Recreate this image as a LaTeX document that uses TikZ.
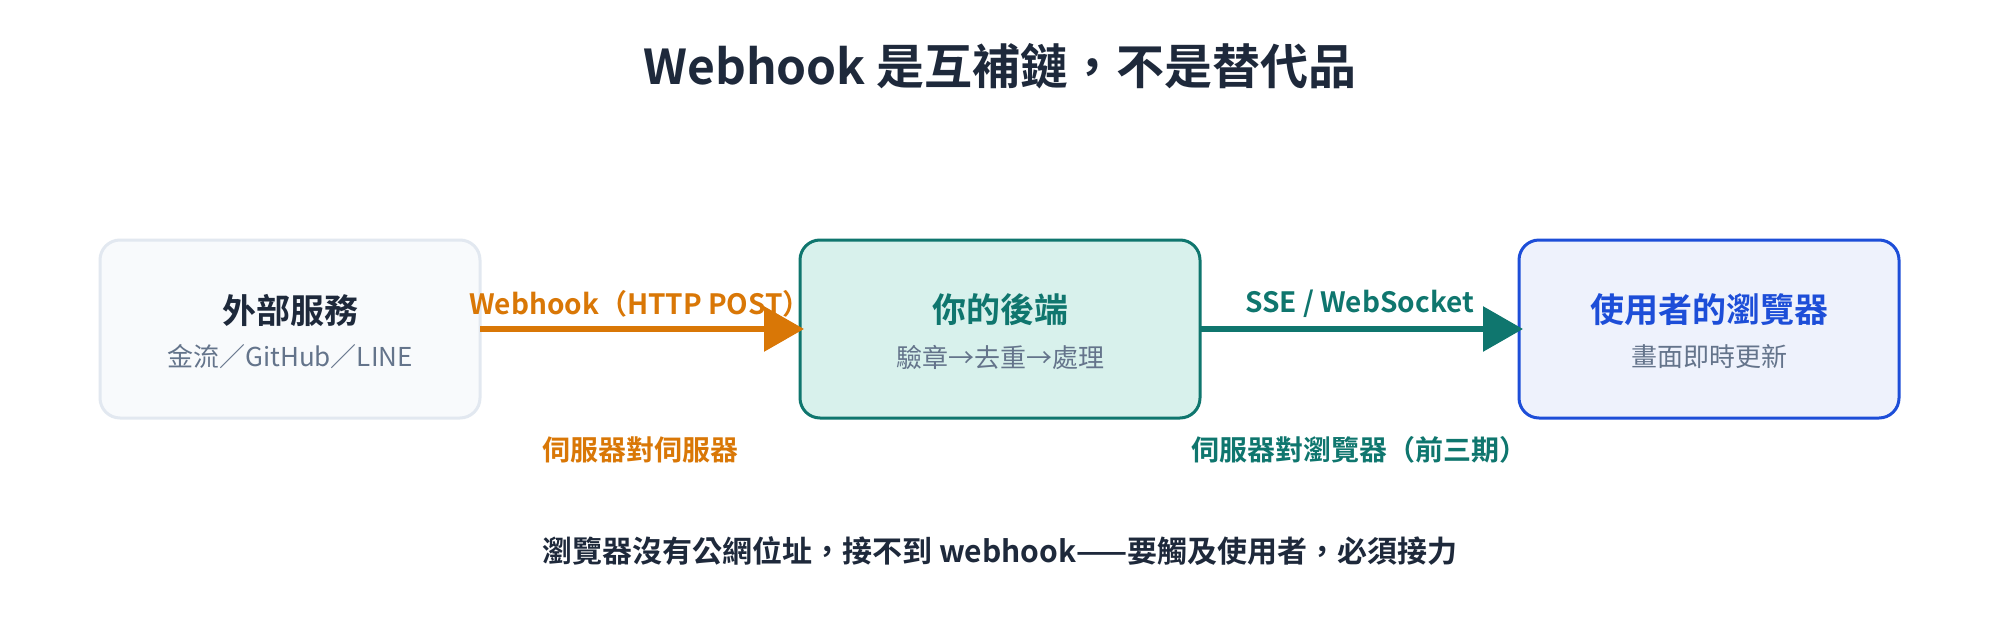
\documentclass[tikz,border=0pt]{standalone}
\usepackage{fontspec}
\setmainfont{Noto Sans CJK TC}[BoldFont={Noto Sans CJK TC Bold}]
\usetikzlibrary{positioning,arrows.meta,calc}
\definecolor{ink}{HTML}{1E293B}
\definecolor{muted}{HTML}{64748B}
\definecolor{extfill}{HTML}{F8FAFC}
\definecolor{extline}{HTML}{E2E8F0}
\definecolor{tealline}{HTML}{0F766E}
\definecolor{tealfill}{HTML}{D8F1EC}
\definecolor{orangeline}{HTML}{D97706}
\definecolor{blueline}{HTML}{1D4ED8}
\definecolor{bluefill}{HTML}{EEF2FC}
\tikzset{
  box/.style={rectangle, rounded corners=20pt, line width=3pt, minimum width=380pt, minimum height=178pt, outer sep=0pt},
  boxtitle/.style={font=\bfseries\fontsize{34}{40}\selectfont},
  boxsub/.style={font=\fontsize{26}{32}\selectfont, text=muted},
  flow/.style={line width=6pt, -{Triangle[length=40pt,width=44pt]}, shorten >=-4pt},
  flowlabel/.style={font=\bfseries\fontsize{28}{34}\selectfont},
}
\begin{document}
\begin{tikzpicture}[x=1pt, y=-1pt]

        \useasboundingbox[fill=white] (0,0) rectangle (2000,640);

        \node (title) at (1000,66) [font=\bfseries\fontsize{48}{58}\selectfont, text=ink] {Webhook 是互補鏈，不是替代品};

        \node (backend) at (1000,329) [box, minimum width=400pt, draw=tealline, fill=tealfill] {};
        \node (ext) [box, left=320pt of backend, draw=extline, fill=extfill] {};
        \node (browser) [box, right=319pt of backend, draw=blueline, fill=bluefill] {};

        \node (ext_t) at ([yshift=19pt]ext.center) [boxtitle, text=ink] {外部服務};
        \node (ext_s) at ([yshift=-28pt]ext.center) [boxsub] {金流／GitHub／LINE};
        \node (backend_t) at ([yshift=19pt]backend.center) [boxtitle, text=tealline] {你的後端};
        \node (backend_s) at ([yshift=-28pt]backend.center) [boxsub] {驗章→去重→處理};
        \node (browser_t) at ([yshift=19pt]browser.center) [boxtitle, text=blueline] {使用者的瀏覽器};
        \node (browser_s) at ([yshift=-28pt]browser.center) [boxsub] {畫面即時更新};

        \draw[flow, orangeline] (ext) to (backend);
        \draw[flow, tealline] (backend) to (browser);

        \node (post) at ([yshift=25pt]$(ext.east)!0.5!(backend.west)$) [flowlabel, text=orangeline] {Webhook（HTTP POST）};
        \node (push) at ([yshift=25pt]$(backend.east)!0.5!(browser.west)$) [flowlabel, text=tealline] {SSE / WebSocket};
        \node (s2s) at ([yshift=-121pt]$(ext.east)!0.5!(backend.west)$) [flowlabel, text=orangeline] {伺服器對伺服器};
        \node (s2b) at ([yshift=-121pt]$(backend.east)!0.5!(browser.west)$) [flowlabel, text=tealline] {伺服器對瀏覽器（前三期）};

        \node (note) at (1000,551) [font=\bfseries\fontsize{30}{36}\selectfont, text=ink] {瀏覽器沒有公網位址，接不到 webhook——要觸及使用者，必須接力};

      \end{tikzpicture}
\end{document}
